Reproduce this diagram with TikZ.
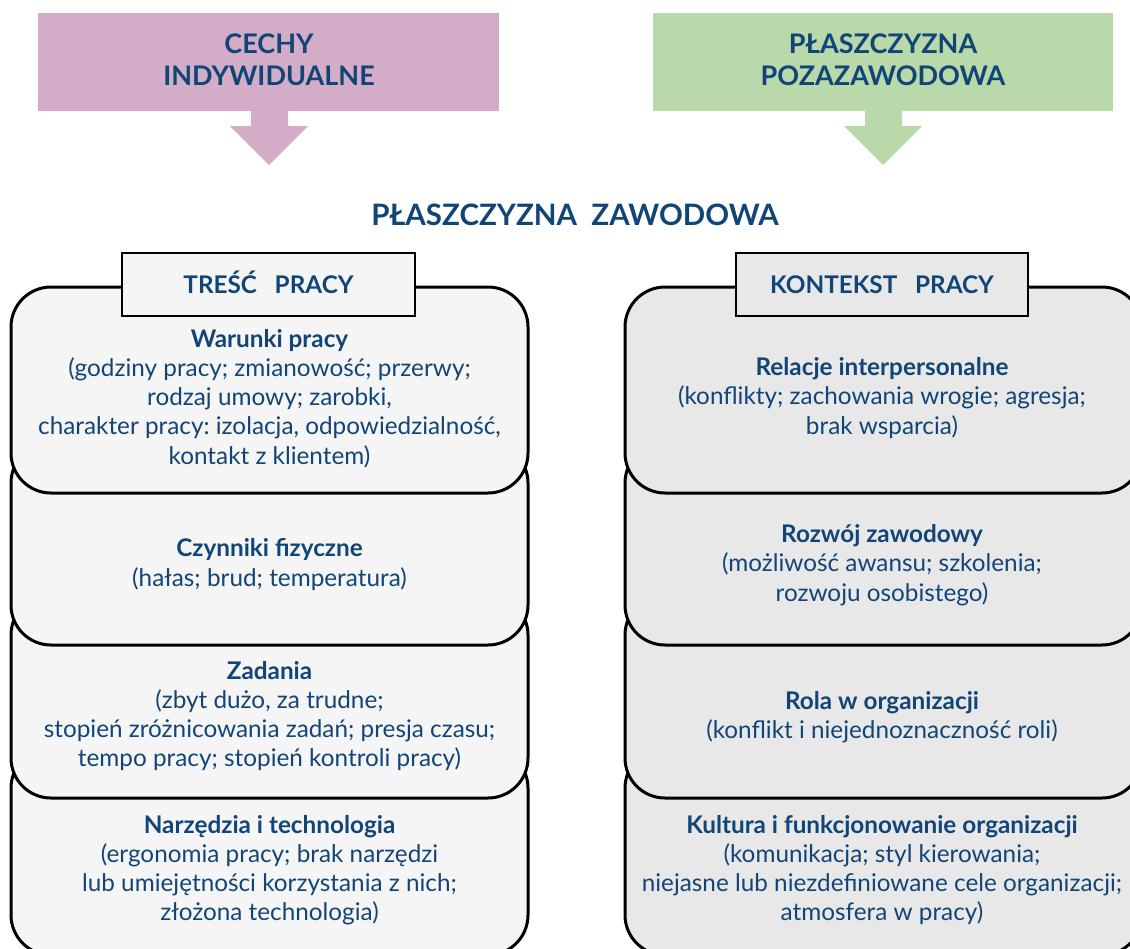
\documentclass[tikz,border=0pt]{standalone}
\usepackage{fontspec}
\setmainfont{Lato}
\frenchspacing
\definecolor{navy}{HTML}{124577}
\definecolor{pinkc}{HTML}{D3ADC7}
\definecolor{greenc}{HTML}{B9D9AB}
\definecolor{lfill}{HTML}{F5F5F5}
\definecolor{rfill}{HTML}{E8E8E8}

\begin{document}
\begin{tikzpicture}[x=1pt,y=-1pt,
    layer/.style={draw=black,line width=3pt,rounded corners=40pt},
    tab/.style={draw=black,line width=2.6pt},
    head/.style={text=navy,align=center,font=\fontsize{27}{32}\selectfont\bfseries},
    txt/.style={text=navy,align=center,font=\fontsize{24.3}{29.2}\selectfont}]
\useasboundingbox (0,0) rectangle (1130,948);
\clip (0,0) rectangle (1130,948);

% top blocks with arrows
\fill[pinkc]  ( 38,13) rectangle (499,111);
\fill[pinkc]  (251,111) -- (251,126) -- (230,126) -- (269,165)
           -- (308,126) -- (288,126) -- (288,111) -- cycle;
\fill[greenc] (653,13) rectangle (1113,111);
\fill[greenc] (865,111) -- (865,126) -- (844,126) -- (883,165)
           -- (922,126) -- (902,126) -- (902,111) -- cycle;
\node[head] (cechy)    at (269,60) {CECHY\\INDYWIDUALNE};
\node[head] (pozazaw)  at (883,60) {PŁASZCZYZNA\\POZAZAWODOWA};
\node[head,font=\fontsize{29.5}{34}\selectfont\bfseries] (zawodowa) at (575,215) {PŁASZCZYZNA\ \ ZAWODOWA};

% left stack
\draw[layer,fill=lfill] ( 11,748) rectangle (528,955);
\draw[layer,fill=lfill] ( 11,595) rectangle (528,798);
\draw[layer,fill=lfill] ( 11,443) rectangle (528,645);
\draw[layer,fill=lfill] ( 11,287) rectangle (528,493);
\draw[tab,fill=lfill]   (122,253) rectangle (415,316);

% right stack
\draw[layer,fill=rfill] (625,748) rectangle (1142,955);
\draw[layer,fill=rfill] (625,595) rectangle (1142,798);
\draw[layer,fill=rfill] (625,443) rectangle (1142,645);
\draw[layer,fill=rfill] (625,287) rectangle (1142,493);
\draw[tab,fill=rfill]   (736,253) rectangle (1028,316);

\node[head,font=\fontsize{24.3}{28}\selectfont\bfseries] (tresc)    at (268.5,282) {TREŚĆ\ \ \ PRACY};
\node[head,font=\fontsize{24.3}{28}\selectfont\bfseries] (kontekst) at (882,284.5)   {KONTEKST\ \ \ PRACY};

\node[txt] (warunki) at (269.5,398.5)
    {\textbf{Warunki pracy}\\(godziny pracy; zmianowość; przerwy;\\rodzaj umowy; zarobki,\\charakter pracy: izolacja, odpowiedzialność,\\kontakt z klientem)};
\node[txt] (fizyczne) at (269.5,564.5)
    {\textbf{Czynniki fizyczne}\\(hałas; brud; temperatura)};
\node[txt] (zadania) at (269.5,716)
    {\textbf{Zadania}\\(zbyt dużo, za trudne;\\stopień zróżnicowania zadań; presja czasu;\\tempo pracy; stopień kontroli pracy)};
\node[txt] (narzedzia) at (269.5,870)
    {\textbf{Narzędzia i technologia}\\(ergonomia pracy; brak narzędzi\\lub umiejętności korzystania z nich;\\złożona technologia)};

\node[txt] (relacje) at (882,398)
    {\textbf{Relacje interpersonalne}\\(konflikty; zachowania wrogie; agresja;\\brak wsparcia)};
\node[txt] (rozwoj) at (882,565)
    {\textbf{Rozwój zawodowy}\\(możliwość awansu; szkolenia;\\rozwoju osobistego)};
\node[txt] (rola) at (882,717)
    {\textbf{Rola w organizacji}\\(konflikt i niejednoznaczność roli)};
\node[txt] (kultura) at (882,870)
    {\textbf{Kultura i funkcjonowanie organizacji}\\(komunikacja; styl kierowania;\\niejasne lub niezdefiniowane cele organizacji;\\atmosfera w pracy)};
\end{tikzpicture}
\end{document}
